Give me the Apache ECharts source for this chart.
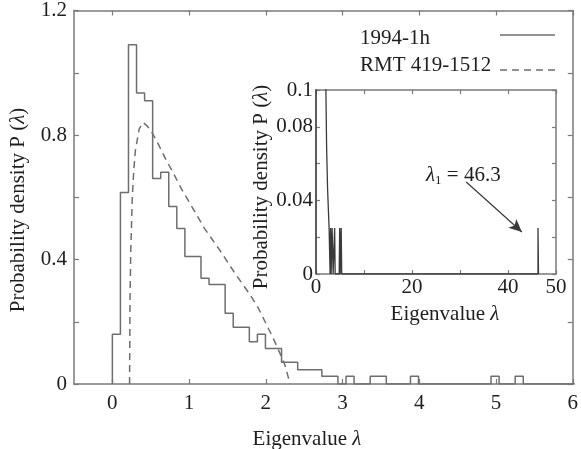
<!DOCTYPE html>
<html><head><meta charset="utf-8">
<script src="https://cdn.jsdelivr.net/npm/echarts@6/dist/echarts.min.js"></script>
<style>html,body{margin:0;padding:0;background:#fff}#c{width:581px;height:449px}</style>
</head><body><div id="c"></div>
<script>
// ---- data ----
const binStart = 0;
const binWidth = 0.105;
const density = [0.16, 0.615, 1.09, 0.935, 0.91, 0.66, 0.68, 0.57, 0.50, 0.41, 0.41, 0.34, 0.32, 0.32,
  0.227, 0.182, 0.182, 0.136, 0.16, 0.114, 0.114, 0.07, 0.07, 0.046, 0.046, 0.046, 0.025, 0.025,
  0, 0.025, 0, 0, 0.025, 0.025, 0, 0, 0, 0.025, 0, 0, 0, 0, 0, 0, 0, 0, 0, 0.025, 0, 0, 0.025];
const outlierLambda = 46.25;
const outlierDensity = 0.025;
const rmtLambda  = [0.224, 0.23, 0.24, 0.26, 0.28, 0.30, 0.35, 0.40, 0.45, 0.50, 0.60, 0.70, 0.80, 0.90, 1.00, 1.20, 1.40, 1.60, 1.80, 1.90, 2.00, 2.10, 2.20, 2.25, 2.30, 2.31];
const rmtDensity = [0, 0.27, 0.43, 0.60, 0.69, 0.75, 0.82, 0.84, 0.83, 0.815, 0.77, 0.72, 0.675, 0.627, 0.585, 0.50, 0.43, 0.355, 0.285, 0.245, 0.195, 0.145, 0.09, 0.06, 0.015, 0];
const mainXTicks = [0, 1, 2, 3, 4, 5, 6];
const mainYTicks = [0, 0.2, 0.4, 0.6, 0.8, 1.0, 1.2];
const mainYLabels = [0, 0.4, 0.8, 1.2];
const insetXTicks = [0, 10, 20, 30, 40, 50];
const insetXLabels = [0, 20, 40, 50];
const insetYTicks = [0, 0.02, 0.04, 0.06, 0.08, 0.1];
const insetYLabels = [0, 0.04, 0.08, 0.1];
const seriesNames = ['1994-1h', 'RMT 419-1512'];
const annotationText = '46.3';
const arrowFrom = [31.3, 0.050];
const arrowTo = [42.9, 0.0228];

// ---- build step outline of histogram from bins ----
const histPts = [[binStart, 0]];
density.forEach((d, i) => {
  histPts.push([binStart + i * binWidth, d]);
  histPts.push([binStart + (i + 1) * binWidth, d]);
});
histPts.push([binStart + density.length * binWidth, 0]);
histPts.push([outlierLambda, 0], [outlierLambda, outlierDensity],
             [outlierLambda + binWidth, outlierDensity], [outlierLambda + binWidth, 0]);
const rmtPts = rmtLambda.map((x, i) => [x, rmtDensity[i]]);

const FONT = "'Liberation Serif', 'Times New Roman', serif";
const AX = '#7a7a7a';
const TXT = '#1e1e1e';
const FS = 21;
const fmt = v => String(+(+v).toFixed(3));

function xAx(grid, min, max, ticks, labels, pos, tlen, margin) {
  return {
    type: 'value', gridIndex: grid, min: min, max: max, position: pos,
    axisLine: { show: true, onZero: false, lineStyle: { color: AX, width: 1.5 } },
    axisTick: { show: true, inside: true, length: tlen, customValues: ticks, lineStyle: { color: AX, width: 1.2 } },
    axisLabel: labels ? { show: true, customValues: labels, formatter: fmt, margin: margin,
      fontFamily: FONT, fontSize: FS, color: TXT } : { show: false },
    splitLine: { show: false }
  };
}

const chart = echarts.init(document.getElementById('c'), null, { renderer: 'canvas' });
chart.setOption({
  animation: false,
  backgroundColor: '#fff',
  grid: [
    { left: 74, right: 5, top: 10, bottom: 65 },
    { left: 316, right: 25, top: 90, bottom: 175 }
  ],
  xAxis: [
    xAx(0, -0.5, 6, mainXTicks, mainXTicks, 'bottom', 5, 9),
    xAx(0, -0.5, 6, mainXTicks, null, 'top', 5, 0),
    xAx(1, 0, 50, insetXTicks, insetXLabels, 'bottom', 4, 3),
    xAx(1, 0, 50, insetXTicks, null, 'top', 4, 0)
  ],
  yAxis: [
    xAx(0, 0, 1.2, mainYTicks, mainYLabels, 'left', 5, 7),
    xAx(0, 0, 1.2, mainYTicks, null, 'right', 5, 0),
    xAx(1, 0, 0.1, insetYTicks, insetYLabels, 'left', 4, 3),
    xAx(1, 0, 0.1, insetYTicks, null, 'right', 4, 0)
  ],
  series: [
    { name: seriesNames[0], type: 'line', xAxisIndex: 0, yAxisIndex: 0, data: histPts,
      symbol: 'none', showSymbol: false, silent: true, clip: true,
      lineStyle: { color: '#6e6e6e', width: 1.5 } },
    { name: seriesNames[1], type: 'line', xAxisIndex: 0, yAxisIndex: 0, data: rmtPts,
      symbol: 'none', showSymbol: false, silent: true, clip: true,
      lineStyle: { color: '#6e6e6e', width: 1.5, type: [7, 5] } },
    { name: seriesNames[0], type: 'line', xAxisIndex: 2, yAxisIndex: 2, data: histPts,
      symbol: 'none', showSymbol: false, silent: true, clip: true,
      lineStyle: { color: '#3a3a3a', width: 1.3 },
      markLine: { silent: true, symbol: ['none', 'arrow'], symbolSize: [9, 13],
        label: { show: false }, lineStyle: { color: '#3a3a3a', width: 1.2, type: 'solid' },
        data: [[{ coord: arrowFrom }, { coord: arrowTo }]] } }
  ],
  graphic: [
    { type: 'text', x: 307, y: 439, silent: true,
      style: { text: 'Eigenvalue {i|λ}', fontFamily: FONT, fontSize: FS, fill: TXT, align: 'center', verticalAlign: 'middle',
        rich: { i: { fontFamily: FONT, fontSize: FS, fontStyle: 'italic', fill: TXT } } } },
    { type: 'text', x: 18, y: 210, rotation: Math.PI / 2, silent: true,
      style: { text: 'Probability density P ({i|λ})', fontFamily: FONT, fontSize: FS, fill: TXT, align: 'center', verticalAlign: 'middle',
        rich: { i: { fontFamily: FONT, fontSize: FS, fontStyle: 'italic', fill: TXT } } } },
    { type: 'text', x: 445, y: 314, silent: true,
      style: { text: 'Eigenvalue {i|λ}', fontFamily: FONT, fontSize: FS, fill: TXT, align: 'center', verticalAlign: 'middle',
        rich: { i: { fontFamily: FONT, fontSize: FS, fontStyle: 'italic', fill: TXT } } } },
    { type: 'text', x: 261, y: 187, rotation: Math.PI / 2, silent: true,
      style: { text: 'Probability density P ({i|λ})', fontFamily: FONT, fontSize: FS, fill: TXT, align: 'center', verticalAlign: 'middle',
        rich: { i: { fontFamily: FONT, fontSize: FS, fontStyle: 'italic', fill: TXT } } } },
    { type: 'text', x: 426, y: 175, silent: true,
      style: { text: '{l|λ}{s|1}{t| = ' + annotationText + '}', fontFamily: FONT, fontSize: FS, fill: TXT, align: 'left', verticalAlign: 'middle',
        rich: { l: { fontFamily: FONT, fontSize: FS, fontStyle: 'italic', fill: TXT },
                s: { fontFamily: FONT, fontSize: 13, fill: TXT, padding: [12, 0, 0, 0] },
                t: { fontFamily: FONT, fontSize: FS, fill: TXT } } } },
    // legend
    { type: 'text', x: 360, y: 38, silent: true,
      style: { text: seriesNames[0], fontFamily: FONT, fontSize: FS, fill: TXT, align: 'left', verticalAlign: 'middle' } },
    { type: 'text', x: 360, y: 65, silent: true,
      style: { text: seriesNames[1], fontFamily: FONT, fontSize: FS, fill: TXT, align: 'left', verticalAlign: 'middle' } },
    { type: 'line', silent: true, shape: { x1: 500, y1: 35, x2: 555, y2: 35 },
      style: { stroke: '#6e6e6e', lineWidth: 1.5 } },
    { type: 'line', silent: true, shape: { x1: 500, y1: 70, x2: 555, y2: 70 },
      style: { stroke: '#6e6e6e', lineWidth: 1.5, lineDash: [7, 5] } }
  ]
});
</script></body></html>
